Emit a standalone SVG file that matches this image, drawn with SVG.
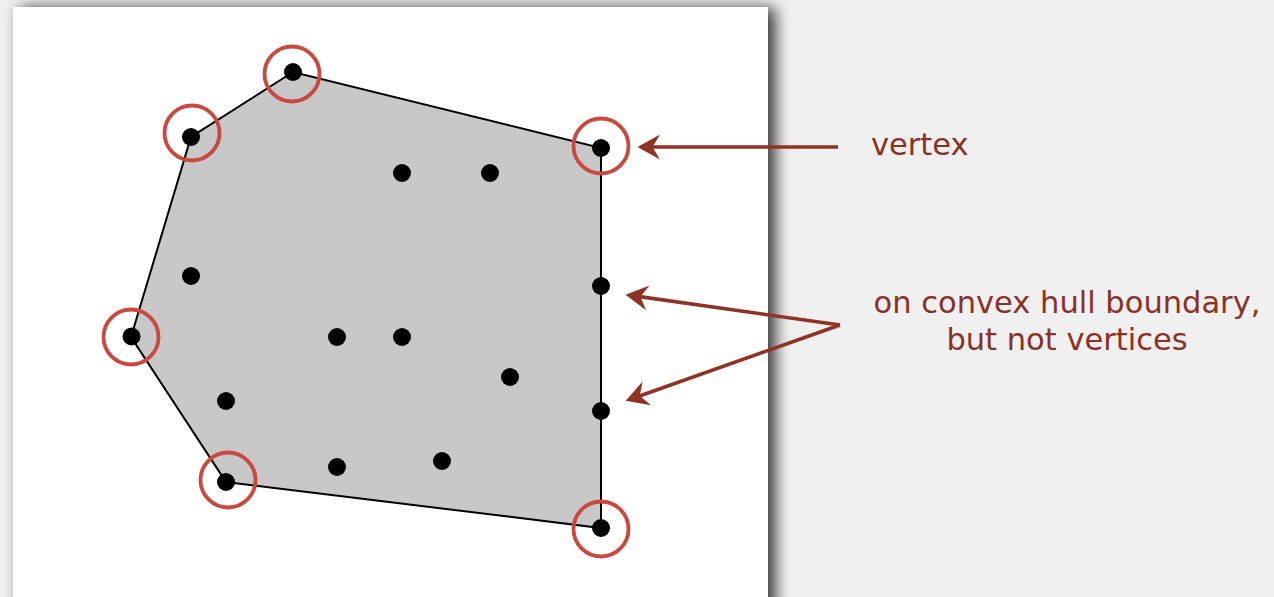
<svg xmlns="http://www.w3.org/2000/svg" width="1274" height="597" viewBox="0 0 1274 597">
<defs>
<filter id="shadow" x="-10%" y="-10%" width="130%" height="130%">
<feGaussianBlur in="SourceAlpha" stdDeviation="8"/>
<feOffset dx="7" dy="1" result="b"/>
<feComponentTransfer><feFuncA type="linear" slope="0.8"/></feComponentTransfer>
<feMerge><feMergeNode/><feMergeNode in="SourceGraphic"/></feMerge>
</filter>
<marker id="arr" markerUnits="userSpaceOnUse" markerWidth="30" markerHeight="30" viewBox="-10 -12 22 24" refX="0" refY="0" orient="auto">
<path d="M10,0 L-8,-10 L-2,0 L-8,10 Z" fill="#8e3326"/>
</marker>
</defs>
<style>
.dot{fill:#000}
.ring{fill:none;stroke:#c9483f;stroke-width:3.8}
.hull{fill:#c8c8c8;stroke:#000;stroke-width:2}
.arrow{fill:none;stroke:#8e3326;stroke-width:3.6;marker-end:url(#arr)}
.lbl{font-family:"DejaVu Sans",Verdana,sans-serif;font-size:30.5px;fill:#8b3024}
</style>
<rect width="1274" height="597" fill="#f0f0f0"/>
<rect x="13" y="7" width="755" height="610" fill="#fff" filter="url(#shadow)"/>
<g id="hull">
<polygon class="hull" points="293,72 191,137 131,337 226,482 601,528 601,148"/>
</g>
<g id="vertices">
<g id="v1"><circle class="dot" cx="293" cy="72" r="9"/><circle class="ring" cx="292" cy="74" r="27.5"/></g>
<g id="v2"><circle class="dot" cx="191" cy="137" r="9"/><circle class="ring" cx="192" cy="133" r="27.5"/></g>
<g id="v3"><circle class="dot" cx="131.5" cy="336.5" r="9"/><circle class="ring" cx="131" cy="337" r="27.5"/></g>
<g id="v4"><circle class="dot" cx="226" cy="482" r="9"/><circle class="ring" cx="228" cy="480" r="27.5"/></g>
<g id="v5"><circle class="dot" cx="601" cy="528" r="9"/><circle class="ring" cx="601" cy="529" r="27.5"/></g>
<g id="v6"><circle class="dot" cx="601" cy="148" r="9"/><circle class="ring" cx="601" cy="146" r="27.5"/></g>
</g>
<g id="points">
<circle class="dot" cx="402" cy="173" r="9"/>
<circle class="dot" cx="490" cy="173" r="9"/>
<circle class="dot" cx="191" cy="276" r="9"/>
<circle class="dot" cx="337" cy="337" r="9"/>
<circle class="dot" cx="402" cy="337" r="9"/>
<circle class="dot" cx="510" cy="377" r="9"/>
<circle class="dot" cx="226" cy="401" r="9"/>
<circle class="dot" cx="337" cy="467" r="9"/>
<circle class="dot" cx="442" cy="461" r="9"/>
<circle class="dot" cx="601" cy="286" r="9"/>
<circle class="dot" cx="601" cy="411" r="9"/>
</g>
<g id="connectors">
<line class="arrow" x1="838" y1="147" x2="650" y2="147"/>
<line class="arrow" x1="840" y1="325" x2="637.9" y2="296.4"/>
<line class="arrow" x1="840" y1="325" x2="637.4" y2="396.7"/>
</g>
<g id="label-vertex"><text class="lbl" x="871" y="155">vertex</text></g>
<g id="label-boundary">
<text class="lbl" x="1067" y="313" text-anchor="middle">on convex hull boundary,</text>
<text class="lbl" x="1067" y="350" text-anchor="middle">but not vertices</text>
</g>
</svg>
